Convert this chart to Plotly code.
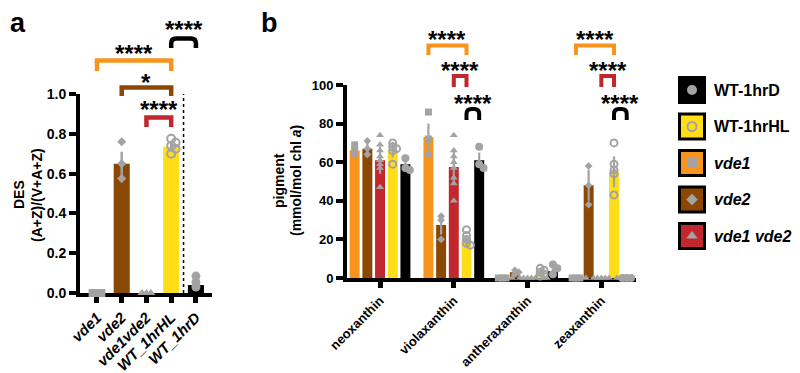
import plotly.graph_objects as go

W, H = 800, 373
OX, OY = 8, 8  # page body margin: figure pixel p appears at screen p + 8

# ---------------- Panel a data ----------------
a_categories = ["vde1", "vde2", "vde1vde2", "WT_1hrHL", "WT_1hrD"]
a_des_mean = [0.0, 0.65, 0.0, 0.735, 0.04]
a_des_sd = [0.0, 0.06, 0.0, 0.025, 0.025]
a_pts_vde1 = [0.0, 0.0, 0.0]
a_pts_vde2 = [0.76, 0.65, 0.575]
a_pts_vde12 = [0.0, 0.0, 0.0]
a_pts_hl = [0.775, 0.755, 0.74, 0.725, 0.70]
a_pts_d = [0.085, 0.055, 0.03]
a_yticks = [0.0, 0.2, 0.4, 0.6, 0.8, 1.0]

# ---------------- Panel b data ----------------
b_pigments = ["neoxanthin", "violaxanthin", "antheraxanthin", "zeaxanthin"]
b_genotypes = ["vde1", "vde2", "vde1 vde2", "WT-1hrHL", "WT-1hrD"]
b_vde1_mean = [66, 73, 0, 0]
b_vde2_mean = [67, 27.5, 3, 48]
b_vde12_mean = [61, 57.5, 0, 0]
b_hl_mean = [66.5, 19.5, 2.5, 55]
b_d_mean = [59, 61, 3.5, 0]
b_vde1_sd = [2.5, 7, 0, 0]
b_vde2_sd = [3, 5, 0.5, 8]
b_vde12_sd = [7, 9, 0, 0]
b_hl_sd = [4, 2.5, 1, 8]
b_d_sd = [4, 4, 2, 0]
b_vde1_pts = [[69, 66, 64], [86, 72, 64], [0, 0, 0], [0, 0, 0]]
b_vde2_pts = [[71, 67, 64], [32, 30, 20], [4, 3, 2], [58, 48, 38]]
b_vde12_pts = [[74, 69, 66, 63, 61, 59, 57, 47], [74, 66, 63, 60, 57, 52, 49, 40],
               [0, 0, 0, 0, 0, 0, 0, 0], [0, 0, 0, 0, 0, 0, 0, 0]]
b_hl_pts = [[70, 68, 67, 66, 59], [25, 22, 20, 18, 17], [5, 4, 3, 2, 1], [70, 59, 56, 54, 43]]
b_d_pts = [[62, 57, 56], [68, 59, 57], [7, 5, 2], [0, 0, 0]]
b_yticks = [0, 20, 40, 60, 80, 100]

legend_labels = ["WT-1hrD", "WT-1hrHL", "vde1", "vde2", "vde1 vde2"]

# ---------------- styles ----------------
FONT = "Liberation Sans, Arial, sans-serif"
GREY = "#A3A3A3"
COL = {"vde1": "#F7941D", "vde2": "#8B4704", "vde1 vde2": "#C1272D",
       "WT-1hrHL": "#FFDE17", "WT-1hrD": "#000000"}
SYM = {"vde1": "square", "vde2": "diamond", "vde1 vde2": "triangle-up",
       "WT-1hrHL": "circle-open", "WT-1hrD": "circle"}
ITAL = {"vde1": True, "vde2": True, "vde1 vde2": True, "WT-1hrHL": False, "WT-1hrD": False}

# layout geometry in screen pixels
A_X0, A_X1, A_YB, A_YT = 80, 212, 293, 94
A_XR = [-0.687, 4.65]
B_X0, B_X1, B_YB, B_YT = 347, 636, 278, 85
B_XR = [-0.448, 3.47]
PITCH, BAR_W = 0.172, 0.135

a_pxu = (A_X1 - A_X0) / (A_XR[1] - A_XR[0])
a_pyu = (A_YB - A_YT) / 1.0
b_pxu = (B_X1 - B_X0) / (B_XR[1] - B_XR[0])
b_pyu = (B_YB - B_YT) / 100.0


def pxx(s):
    return (s - OX) / W


def py(s):
    return 1 - (s - OY) / H


def swarm(values, y_per_unit, x_per_unit, diam):
    placed, offs = [], []
    step = diam * 0.55
    for v in values:
        y = v * y_per_unit
        cand = 0
        for k in range(0, 40):
            cand = 0 if k == 0 else ((k + 1) // 2) * step * (1 if k % 2 else -1)
            if all((cand - px) ** 2 + (y - yy) ** 2 >= (diam * 0.55) ** 2 for px, yy in placed):
                break
        placed.append((cand, y))
        offs.append(cand / x_per_unit)
    return offs


def marker_style(g, size):
    if SYM[g] == "circle-open":
        return dict(symbol="circle-open", size=size, color=GREY, line=dict(color=GREY, width=2))
    if SYM[g] == "diamond":
        size = size - 1
    return dict(symbol=SYM[g], size=size, color=GREY, line=dict(width=0))


fig = go.Figure()

# ---------------- Panel a ----------------
a_gen = ["vde1", "vde2", "vde1 vde2", "WT-1hrHL", "WT-1hrD"]
fig.add_trace(go.Bar(
    x=list(range(len(a_categories))), y=a_des_mean, width=0.65,
    marker=dict(color=[COL[g] for g in a_gen], line=dict(width=0)),
    error_y=dict(type="data", array=a_des_sd, color=GREY, thickness=2.5, width=0),
    xaxis="x", yaxis="y", cliponaxis=False))
a_points = [a_pts_vde1, a_pts_vde2, a_pts_vde12, a_pts_hl, a_pts_d]
for i, (g, pts) in enumerate(zip(a_gen, a_points)):
    size = 9 if g == "WT-1hrD" else 8
    offs = swarm(pts, a_pyu, a_pxu, size)
    fig.add_trace(go.Scatter(x=[i + o for o in offs], y=pts, mode="markers",
                             marker=marker_style(g, size), xaxis="x", yaxis="y",
                             cliponaxis=False))

# ---------------- Panel b ----------------
b_means = [b_vde1_mean, b_vde2_mean, b_vde12_mean, b_hl_mean, b_d_mean]
b_sds = [b_vde1_sd, b_vde2_sd, b_vde12_sd, b_hl_sd, b_d_sd]
b_pts = [b_vde1_pts, b_vde2_pts, b_vde12_pts, b_hl_pts, b_d_pts]
for s, g in enumerate(b_genotypes):
    xs = [i + (s - 2) * PITCH for i in range(len(b_pigments))]
    fig.add_trace(go.Bar(x=xs, y=b_means[s], width=BAR_W,
                         marker=dict(color=COL[g], line=dict(width=0)),
                         error_y=dict(type="data", array=b_sds[s], color=GREY, thickness=2.2, width=0),
                         xaxis="x2", yaxis="y2", cliponaxis=False))
for s, g in enumerate(b_genotypes):
    size = 8 if g == "WT-1hrD" else 7
    px_, py_ = [], []
    for i, pts in enumerate(b_pts[s]):
        offs = swarm(pts, b_pyu, b_pxu, size)
        px_ += [i + (s - 2) * PITCH + o for o in offs]
        py_ += pts
    fig.add_trace(go.Scatter(x=px_, y=py_, mode="markers", marker=marker_style(g, size),
                             xaxis="x2", yaxis="y2", cliponaxis=False))

# ---------------- Legend (drawn) ----------------
LEG_X0 = 660
for k, g in enumerate(legend_labels):
    yc = 90 + k * 36.5
    fig.add_trace(go.Scatter(x=[692], y=[yc], mode="markers",
                             marker=dict(symbol="square", size=25, color=COL[g],
                                         line=dict(color="black", width=3)),
                             xaxis="x3", yaxis="y3", cliponaxis=False))
    fig.add_trace(go.Scatter(x=[692], y=[yc], mode="markers",
                             marker=marker_style(g, 10 if SYM[g] != "circle-open" else 9),
                             xaxis="x3", yaxis="y3", cliponaxis=False))
    fig.add_annotation(x=712, y=yc, xref="x3", yref="y3", xanchor="left", yanchor="middle",
                       text=g, showarrow=False,
                       font=dict(family=FONT, size=16, color="black", weight="bold",
                                 style="italic" if ITAL[g] else "normal"))

# ---------------- shapes: dotted line, brackets ----------------
fig.add_shape(type="line", xref="x", yref="y", x0=3.5, x1=3.5, y0=0, y1=1.0,
              line=dict(color="black", width=1.5, dash="dot"))


def bracket(xref, x0, x1, ytop, yleg, color, width, rounded=False, pxu=1.0):
    t, l = py(ytop), py(yleg)
    if rounded:
        r = 5
        rx = r / pxu
        path = (f"M {x0},{l} L {x0},{py(ytop + r)} Q {x0},{t} {x0 + rx},{t} "
                f"L {x1 - rx},{t} Q {x1},{t} {x1},{py(ytop + r)} L {x1},{l}")
    else:
        path = f"M {x0},{l} L {x0},{t} L {x1},{t} L {x1},{l}"
    fig.add_shape(type="path", xref=xref, yref="paper", path=path,
                  line=dict(color=color, width=width))


def stars(xref, x, ypx, text):
    fig.add_annotation(x=x, y=py(ypx + 7), xref=xref, yref="paper", text=text,
                       showarrow=False, xanchor="center", yanchor="middle",
                       font=dict(family=FONT, size=24, color="black", weight="bold"))


# panel a brackets (genotype indices)
a_brackets = [(0, 3, 60.5, 71, COL["vde1"], "****", 47, False),
              (1, 3, 87.5, 96, COL["vde2"], "*", 75, False),
              (2, 3, 117.5, 127, COL["vde1 vde2"], "****", 102.5, False),
              (3, 4, 38.5, 48, "black", "****", 22.5, True)]
for i0, i1, yt, yl, c, txt, ys, rnd in a_brackets:
    bracket("x", i0, i1, yt, yl, c, 4.5, rnd, a_pxu)
    stars("x", (i0 + i1) / 2, ys, txt)

# panel b brackets: pigment index, genotype indices
b_brackets = []
for pig in (1, 3):
    b_brackets += [(pig, 0, 3, 45.5, 55, COL["vde1"], 32, False),
                   (pig, 2, 3, 76, 87, COL["vde1 vde2"], 63.5, False),
                   (pig, 3, 4, 109, 120, "black", 96.5, True)]
for pig, s0, s1, yt, yl, c, ys, rnd in b_brackets:
    x0 = pig + (s0 - 2) * PITCH
    x1 = pig + (s1 - 2) * PITCH
    bracket("x2", x0, x1, yt, yl, c, 4, rnd, b_pxu)
    stars("x2", (x0 + x1) / 2, ys, "****")


# ---------------- text annotations ----------------
def label(x, y, text, size, angle=0, xanchor="center", yanchor="middle"):
    fig.add_annotation(x=pxx(x), y=py(y), xref="paper", yref="paper", text=text,
                       showarrow=False, textangle=angle, xanchor=xanchor, yanchor=yanchor,
                       font=dict(family=FONT, size=size, color="black", weight="bold"))


label(8, 6, "a", 27, xanchor="left", yanchor="top")
label(259, 6, "b", 27, xanchor="left", yanchor="top")
label(19, 195, "DES", 14, -90)
label(37, 195, "(A+Z)/(V+A+Z)", 14, -90)
label(279, 181, "pigment", 14, -90)
label(296, 181, "(mmol/mol chl <i>a</i>)", 14, -90)

axis_common = dict(showgrid=False, zeroline=False, showline=True, linecolor="black",
                   ticks="outside", tickcolor="black", layer="below traces",
                   automargin=False)

fig.update_layout(
    template="none",
    width=W, height=H, margin=dict(l=0, r=0, t=0, b=0, pad=0, autoexpand=False),
    paper_bgcolor="white", plot_bgcolor="rgba(0,0,0,0)",
    showlegend=False, barmode="overlay",
    font=dict(family=FONT, color="black"),
    xaxis=dict(domain=[pxx(A_X0), pxx(A_X1)], range=A_XR, anchor="y",
               tickvals=list(range(len(a_categories))), ticktext=a_categories,
               tickangle=-45, linewidth=4, ticklen=6, tickwidth=5,
               tickfont=dict(family=FONT, size=15, weight="bold", style="italic"),
               **axis_common),
    yaxis=dict(domain=[py(A_YB), py(A_YT)], range=[0, 1.0], anchor="x",
               tickvals=a_yticks, ticktext=[f"{v:.1f}" for v in a_yticks],
               linewidth=4, ticklen=7, tickwidth=4,
               tickfont=dict(family=FONT, size=14, weight="bold"), **axis_common),
    xaxis2=dict(domain=[pxx(B_X0), pxx(B_X1)], range=B_XR, anchor="y2",
                tickvals=list(range(len(b_pigments))), ticktext=b_pigments,
                tickangle=-45, linewidth=4, ticklen=6, tickwidth=5,
                tickfont=dict(family=FONT, size=13, weight="bold"), **axis_common),
    yaxis2=dict(domain=[py(B_YB), py(B_YT)], range=[0, 100], anchor="x2",
                tickvals=b_yticks, linewidth=4, ticklen=7, tickwidth=4,
                tickfont=dict(family=FONT, size=13, weight="bold"), **axis_common),
    xaxis3=dict(domain=[pxx(LEG_X0), 1], range=[LEG_X0, W + OX], anchor="y3", visible=False,
                automargin=False),
    yaxis3=dict(domain=[0, 1], range=[H + OY, OY], anchor="x3", visible=False,
                automargin=False),
)

fig.write_html("out.html")
